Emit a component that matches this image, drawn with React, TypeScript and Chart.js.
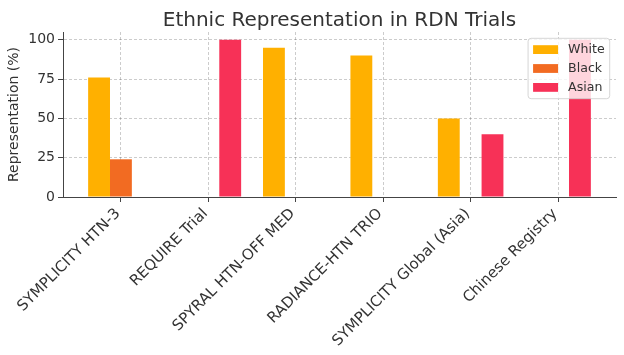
import React, { useEffect, useRef } from 'react';
import { Chart, registerables } from 'chart.js';

Chart.register(...registerables);

const chartTitle = 'Ethnic Representation in RDN Trials';
const yAxisTitle = 'Representation (%)';
const categories = [
  'SYMPLICITY HTN-3',
  'REQUIRE Trial',
  'SPYRAL HTN-OFF MED',
  'RADIANCE-HTN TRIO',
  'SYMPLICITY Global (Asia)',
  'Chinese Registry',
];
const seriesNames = ['White', 'Black', 'Asian'];
const whiteValues = [76, 0, 95, 90, 50, 0];
const blackValues = [24, 0, 0, 0, 0, 0];
const asianValues = [0, 100, 0, 0, 40, 100];
const yTickValues = [0, 25, 50, 75, 100];

const seriesColors = ['#FFB000', '#F26B22', '#F73157'];
const FONT = "'DejaVu Sans', sans-serif";
const TEXT = '#333333';
const AXIS = '#444444';
const GRID = 'rgba(0,0,0,0.2)';

export default function App() {
  const ref = useRef<HTMLCanvasElement>(null);

  useEffect(() => {
    const seriesValues = [whiteValues, blackValues, asianValues];

    const titlePlugin = {
      id: 'customTitle',
      afterDraw(chart: any) {
        const { ctx, chartArea } = chart;
        ctx.save();
        ctx.font = `20px ${FONT}`;
        ctx.fillStyle = TEXT;
        ctx.textAlign = 'center';
        ctx.textBaseline = 'alphabetic';
        ctx.fillText(chartTitle, (chartArea.left + chartArea.right) / 2, 26);
        ctx.restore();
      },
    };

    const legendPlugin = {
      id: 'customLegend',
      afterDraw(chart: any) {
        const { ctx, chartArea } = chart;
        const fs = 12.6;
        const pad = 5;
        const handle = 25;
        const gap = 10;
        const spacing = 6.3;
        ctx.save();
        ctx.font = `${fs}px ${FONT}`;
        const textW = Math.max(...seriesNames.map((n) => ctx.measureText(n).width));
        const w = pad + handle + gap + textW + pad;
        const h = pad * 2 + seriesNames.length * fs + (seriesNames.length - 1) * spacing;
        const right = chartArea.right - 6.3;
        const top = chartArea.top + 6.3;
        const left = right - w;
        ctx.beginPath();
        (ctx as any).roundRect(left, top, w, h, 3);
        ctx.fillStyle = 'rgba(255,255,255,0.8)';
        ctx.fill();
        ctx.strokeStyle = 'rgba(204,204,204,0.8)';
        ctx.lineWidth = 1;
        ctx.stroke();
        seriesNames.forEach((name, i) => {
          const cy = top + pad + fs / 2 + i * (fs + spacing);
          ctx.fillStyle = seriesColors[i];
          ctx.fillRect(left + pad, cy - 4.4, handle, 8.8);
          ctx.fillStyle = TEXT;
          ctx.textAlign = 'left';
          ctx.textBaseline = 'middle';
          ctx.fillText(name, left + pad + handle + gap, cy + 0.5);
        });
        ctx.restore();
      },
    };

    const chart = new Chart(ref.current as HTMLCanvasElement, {
      type: 'bar',
      data: {
        datasets: seriesNames.map((name, s) => ({
          label: name,
          data: categories.map((_, i) => ({ x: i, y: seriesValues[s][i] })),
          backgroundColor: seriesColors[s],
          borderWidth: 0,
          categoryPercentage: 0.75,
          barPercentage: 1.0,
        })),
      },
      options: {
        responsive: false,
        animation: false,
        devicePixelRatio: 1,
        layout: { padding: { top: 32, right: 8, left: 0, bottom: 0 } },
        plugins: {
          legend: { display: false },
          title: { display: false },
          tooltip: { enabled: false },
        },
        scales: {
          x: {
            type: 'linear',
            min: -0.6625,
            max: 5.6625,
            offset: false,
            afterFit: (s: any) => {
              s.height = 158;
              s.paddingLeft = 0;
              s.paddingRight = 0;
            },
            grid: {
              offset: false,
              color: GRID,
              lineWidth: 1,
              tickLength: 5,
              tickColor: AXIS,
              tickWidth: 1,
              tickBorderDash: [],
            },
            border: { display: true, color: AXIS, width: 1, dash: [3, 2] },
            ticks: {
              stepSize: 1,
              includeBounds: false,
              autoSkip: false,
              minRotation: 45,
              maxRotation: 45,
              padding: 3,
              labelOffset: -3,
              color: TEXT,
              font: { family: FONT, size: 15 },
              callback: (v: any) => {
                const i = Math.round(Number(v));
                return Math.abs(Number(v) - i) < 1e-6 ? categories[i] ?? '' : '';
              },
            },
          },
          y: {
            min: 0,
            max: 105,
            afterFit: (s: any) => {
              s.width = 63;
              s.paddingTop = 0;
              s.paddingBottom = 0;
            },
            grid: {
              color: (c: any) => (c.tick && c.tick.value === 0 ? 'rgba(0,0,0,0)' : GRID),
              lineWidth: 1,
              tickLength: 5,
              tickColor: AXIS,
              tickWidth: 1,
              tickBorderDash: [],
            },
            border: { display: true, color: AXIS, width: 1, dash: [3, 2] },
            ticks: {
              stepSize: 25,
              includeBounds: false,
              padding: 3,
              color: TEXT,
              font: { family: FONT, size: 14 },
              callback: (v: any) => (yTickValues.includes(Number(v)) ? String(v) : ''),
            },
            title: {
              display: true,
              text: yAxisTitle,
              color: TEXT,
              font: { family: FONT, size: 14 },
              padding: { top: 6, bottom: 0 },
            },
          },
        },
      } as any,
      plugins: [titlePlugin, legendPlugin],
    });
    return () => chart.destroy();
  }, []);

  return (
    <div style={{ position: 'absolute', left: 0, top: 0, width: 624, height: 355, background: '#fff' }}>
      <canvas ref={ref} width={624} height={355} style={{ width: 624, height: 355, display: 'block' }} />
    </div>
  );
}
